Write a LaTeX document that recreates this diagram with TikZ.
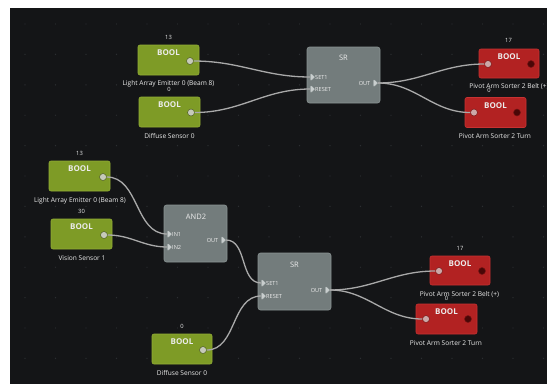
\documentclass[tikz,border=0pt]{standalone}
\usepackage{fontspec}
\setmainfont{Open Sans}
\usetikzlibrary{shapes.symbols}
\definecolor{bgc}{HTML}{141517}
\definecolor{gridc}{HTML}{2C2E31}
\definecolor{greenc}{HTML}{7E9B26}
\definecolor{greenb}{HTML}{93AE36}
\definecolor{redc}{HTML}{B22222}
\definecolor{redb}{HTML}{C73232}
\definecolor{grayc}{HTML}{737C7C}
\definecolor{grayb}{HTML}{8A9393}
\definecolor{wirec}{HTML}{A9A9A9}
\definecolor{txtc}{HTML}{ECECEC}
\definecolor{gdot}{HTML}{C6CABA}
\definecolor{gdotb}{HTML}{4E5E22}
\definecolor{rdot}{HTML}{CCA8A8}
\definecolor{rdotb}{HTML}{7A1515}
\definecolor{rout}{HTML}{4A0707}
\definecolor{portc}{HTML}{C9CECE}
\begin{document}
\begin{tikzpicture}[x=1pt,y=-1pt,
  greenbox/.style={rectangle,rounded corners=2pt,fill=greenc,draw=greenb,line width=0.6pt,minimum width=61pt,minimum height=30pt,inner sep=0pt},
  redbox/.style={rectangle,rounded corners=2pt,fill=redc,draw=redb,line width=0.6pt,minimum width=61pt,minimum height=30pt,inner sep=0pt},
  graybox/.style={rectangle,rounded corners=2.5pt,fill=grayc,draw=grayb,line width=0.6pt,minimum width=73pt,minimum height=57pt,inner sep=0pt},
  title/.style={text=txtc,inner sep=0pt,font=\bfseries\fontsize{8}{9}\selectfont},
  btitle/.style={text=txtc,inner sep=0pt,font=\fontsize{7.5}{9}\selectfont},
  lbl/.style={text=txtc,inner sep=0pt,font=\fontsize{6.6}{8}\selectfont},
  val/.style={text=txtc,inner sep=0pt,font=\fontsize{5.8}{7}\selectfont},
  plbl/.style={text=txtc,inner sep=0pt,font=\fontsize{5.6}{7}\selectfont},
  gout/.style={circle,fill=gdot,draw=gdotb,line width=0.5pt,minimum size=7pt,inner sep=0pt},
  rin/.style={circle,fill=rdot,draw=rdotb,line width=0.5pt,minimum size=7pt,inner sep=0pt},
  rout/.style={circle,fill=rout,draw=rdotb,line width=0.5pt,minimum size=7pt,inner sep=0pt},
  port/.style={signal,signal to=east,fill=portc,draw=grayb,line width=0.3pt,minimum width=4.5pt,minimum height=6pt,inner sep=0pt},
  wire/.style={draw=wirec,line width=1.3pt}]
\useasboundingbox (0,0) rectangle (547,384);
\fill[white] (0,0) rectangle (547,384);
\begin{scope}
\clip (10,8) rectangle (547,384);
\fill[bgc] (10,8) rectangle (547,384);
\foreach \i in {0,...,17}{\foreach \j in {0,...,11}{\fill[gridc] (25+30.5*\i,24+30.4*\j) circle (0.7);}}

% ---------- top section ----------
\node[greenbox] (b1) at (168.5,60) {};
\node[title] (b1t) at (168.5,53) {BOOL};
\node[gout] (b1o) at (190,61) {};
\node[val] (b1v) at (168.5,37) {13};
\node[lbl] (b1l) at (168.5,84) {Light Array Emitter 0 (Beam 8)};

\node[greenbox] (b2) at (169.5,112) {};
\node[title] (b2t) at (169.5,105) {BOOL};
\node[gout] (b2o) at (191,112.5) {};
\node[val] (b2v) at (169,89.5) {0};
\node[lbl] (b2l) at (169.5,136) {Diffuse Sensor 0};

\node[graybox,minimum height=56pt] (s1) at (343.5,75) {};
\node[btitle] (s1t) at (343.5,58) {SR};
\node[port] (s1a) at (311,77) {};
\node[plbl,anchor=west] (s1al) at (315,77) {SET1};
\node[port] (s1b) at (311,89) {};
\node[plbl,anchor=west] (s1bl) at (315,89) {RESET};
\node[port] (s1o) at (374,83) {};
\node[plbl,anchor=east] (s1ol) at (370.5,83) {OUT};

\node[redbox,minimum width=60pt,minimum height=29pt] (r1) at (509,63.5) {};
\node[title] (r1t) at (509,57) {BOOL};
\node[rin] (r1i) at (488,64) {};
\node[rout] (r1o) at (531,64) {};
\node[val] (r1v) at (508.5,40) {17};
\node[lbl] (r1l) at (509,87) {Pivot Arm Sorter 2 Belt (+)};

\node[redbox] (r2) at (495.5,112.5) {};
\node[title] (r2t) at (495.5,106) {BOOL};
\node[rin] (r2i) at (474,112.5) {};
\node[rout] (r2o) at (517,112.5) {};
\node[val] (r2v) at (489,90) {0};
\node[lbl] (r2l) at (495,136) {Pivot Arm Sorter 2 Turn};

\draw[wire] (b1o.east) to[out=0,in=180] (s1a.west);
\draw[wire] (b2o.east) to[out=0,in=180] (s1b.west);
\draw[wire] (s1o.east) to[out=0,in=180] (r1i.west);
\draw[wire] (s1o.east) to[out=0,in=180] (r2i.west);

% ---------- bottom section ----------
\node[greenbox] (b3) at (79.5,176) {};
\node[title] (b3t) at (79.5,169) {BOOL};
\node[gout] (b3o) at (103,177) {};
\node[val] (b3v) at (79.5,153) {13};
\node[lbl] (b3l) at (80,201) {Light Array Emitter 0 (Beam 8)};

\node[greenbox] (b4) at (81.5,234) {};
\node[title] (b4t) at (81.5,227) {BOOL};
\node[gout] (b4o) at (104,235) {};
\node[val] (b4v) at (81.5,211) {30};
\node[lbl] (b4l) at (82,258) {Vision Sensor 1};

\node[graybox,minimum width=63pt] (a1) at (195.5,233.5) {};
\node[btitle] (a1t) at (196,217) {AND2};
\node[port] (a1a) at (168,234) {};
\node[plbl,anchor=west] (a1al) at (172,234) {IN1};
\node[port] (a1b) at (168,247) {};
\node[plbl,anchor=west] (a1bl) at (172,247) {IN2};
\node[port] (a1o) at (222,240) {};
\node[plbl,anchor=east] (a1ol) at (218.5,240) {OUT};

\node[graybox] (s2) at (294.5,281.5) {};
\node[btitle] (s2t) at (294.5,265) {SR};
\node[port] (s2a) at (262,283) {};
\node[plbl,anchor=west] (s2al) at (266,283) {SET1};
\node[port] (s2b) at (262,296) {};
\node[plbl,anchor=west] (s2bl) at (266,296) {RESET};
\node[port] (s2o) at (326,290) {};
\node[plbl,anchor=east] (s2ol) at (322.5,290) {OUT};

\node[redbox,minimum width=60pt,minimum height=29pt] (r3) at (460,270.5) {};
\node[title] (r3t) at (460,264) {BOOL};
\node[rin] (r3i) at (439,271) {};
\node[rout] (r3o) at (482,271) {};
\node[val] (r3v) at (460,248) {17};
\node[lbl] (r3l) at (459.5,295) {Pivot Arm Sorter 2 Belt (+)};

\node[redbox] (r4) at (446.5,319) {};
\node[title] (r4t) at (446.5,312) {BOOL};
\node[rin] (r4i) at (426,319) {};
\node[rout] (r4o) at (468,319) {};
\node[val] (r4v) at (446.5,298) {0};
\node[lbl] (r4l) at (446,343) {Pivot Arm Sorter 2 Turn};

\node[greenbox,minimum width=60pt] (b5) at (182,349) {};
\node[title] (b5t) at (182,342) {BOOL};
\node[gout] (b5o) at (203,350) {};
\node[val] (b5v) at (182,326) {0};
\node[lbl] (b5l) at (182,373) {Diffuse Sensor 0};

\draw[wire] (b3o.east) to[out=0,in=180] (a1a.west);
\draw[wire] (b4o.east) to[out=0,in=180] (a1b.west);
\draw[wire] (a1o.east) to[out=0,in=180] (s2a.west);
\draw[wire] (b5o.east) to[out=0,in=180] (s2b.west);
\draw[wire] (s2o.east) to[out=0,in=180] (r3i.west);
\draw[wire] (s2o.east) to[out=0,in=180] (r4i.west);
\end{scope}
\end{tikzpicture}
\end{document}
